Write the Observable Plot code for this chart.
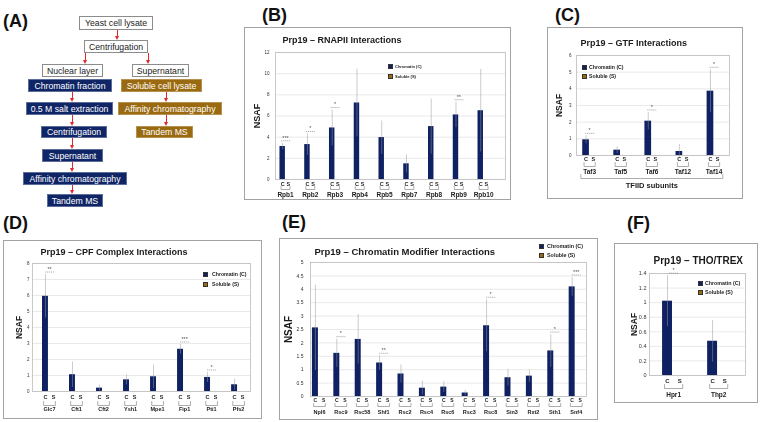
<!DOCTYPE html>
<html><head><meta charset="utf-8">
<script src="https://cdn.jsdelivr.net/npm/d3@7"></script>
<script src="https://cdn.jsdelivr.net/npm/@observablehq/plot@0.6"></script>
<style>
html,body{margin:0;padding:0;background:#fff;}
#root{position:relative;width:761px;height:422px;overflow:hidden;background:#fff;font-family:"Liberation Sans",Arial,sans-serif;}
.plabel{position:absolute;font-weight:bold;font-size:18px;line-height:1;color:#111;white-space:nowrap;}
.box{position:absolute;box-sizing:border-box;display:flex;align-items:center;justify-content:center;font-size:8.7px;white-space:nowrap;overflow:hidden;}
.wbox{background:#fff;border:1px solid #8c8c8c;color:#222;}
.bbox{background:#102566;color:#fff;border:1px solid #5d6d99;}
.gbox{background:#9a6a10;color:#fff;border:1px solid #b89150;}
.panel{position:absolute;}
.panel svg{will-change:transform;}
.pborder{position:absolute;left:0;top:0;right:0;bottom:0;box-sizing:border-box;border:1px solid #a3a3a3;pointer-events:none;}
.leg{position:absolute;font-weight:bold;white-space:nowrap;color:#222;line-height:1;}
.sw{position:absolute;width:5px;height:5px;box-sizing:border-box;border:0.5px solid #333;}
.arr{position:absolute;width:1px;background:#e3262b;}
.head{position:absolute;width:0;height:0;border-left:2.5px solid transparent;border-right:2.5px solid transparent;border-top:4px solid #e3262b;}
</style></head>
<body><div id="root"></div>
<script>
// ---------------- DATA ----------------
// (B) RNAPII
const rnapiiGenes = ["Rpb1","Rpb2","Rpb3","Rpb4","Rpb5","Rpb7","Rpb8","Rpb9","Rpb10"];
const rnapiiChromatin = [3.12, 3.30, 4.87, 7.23, 3.96, 1.48, 5.00, 6.10, 6.50];
const rnapiiChromatinErr = [0.30, 1.00, 1.70, 3.20, 1.57, 0.85, 2.60, 1.20, 3.90];
const rnapiiSoluble = [0,0,0,0,0,0,0,0,0];
const rnapiiSig = ["***","*","*","","","","","**",""];
const rnapiiTicks = [0,2,4,6,8,10,12];

// (C) GTF
const gtfGenes = ["Taf3","Taf5","Taf6","Taf12","Taf14"];
const gtfChromatin = [0.94, 0.32, 2.06, 0.24, 3.86];
const gtfChromatinErr = [0.24, 0.20, 0.52, 0.42, 1.28];
const gtfSoluble = [0,0,0,0,0];
const gtfSig = ["*","","*","","*"];
const gtfTicks = [0,1,2,3,4,5,6];
const gtfGroupLabel = "TFIID subunits";

// (D) CPF complex
const cpfGenes = ["Glc7","Cft1","Cft2","Ysh1","Mpe1","Fip1","Pti1","Pfs2"];
const cpfChromatin = [5.95, 1.05, 0.21, 0.73, 0.92, 2.64, 0.88, 0.42];
const cpfChromatinErr = [1.36, 0.80, 0.19, 0.31, 0.73, 0.30, 0.31, 0.35];
const cpfSoluble = [0,0,0,0,0,0,0,0];
const cpfSig = ["**","","","","","***","*",""];
const cpfTicks = [0,1,2,3,4,5,6,7,8];

// (E) Chromatin modifiers
const modGenes = ["Npl6","Rsc9","Rsc58","Shf1","Rsc2","Rsc4","Rsc6","Rsc3","Rsc8","Sin3","Rxt2","Sth1","Snf4"];
const modChromatin = [2.56, 1.61, 2.13, 1.25, 0.84, 0.31, 0.35, 0.13, 2.64, 0.70, 0.76, 1.70, 4.09];
const modChromatinErr = [1.59, 0.53, 0.92, 0.27, 0.34, 0.26, 0.20, 0.10, 0.97, 0.31, 0.23, 0.61, 0.35];
const modSoluble = [0,0,0,0,0,0,0,0,0,0,0,0,0];
const modSig = ["","*","","**","","","","","*","","","*","***"];
const modTicks = [0,0.5,1,1.5,2,2.5,3,3.5,4,4.5,5];

// (F) THO/TREX
const thoGenes = ["Hpr1","Thp2"];
const thoChromatin = [1.02, 0.47];
const thoChromatinErr = [0.35, 0.285];
const thoSoluble = [0,0];
const thoSig = ["*",""];
const thoTicks = [0,0.2,0.4,0.6,0.8,1,1.2,1.4];

const seriesNames = ["Chromatin (C)","Soluble (S)"];
const titles = {
  B: "Prp19 \u2013 RNAPII Interactions",
  C: "Prp19 \u2013 GTF Interactions",
  D: "Prp19 \u2013 CPF Complex Interactions",
  E: "Prp19 \u2013 Chromatin Modifier Interactions",
  F: "Prp19 \u2013 THO/TREX"
};

// (A) flowchart text
const flowTop = ["Yeast cell lysate","Centrifugation","Nuclear layer","Supernatant"];
const flowChromatin = ["Chromatin fraction","0.5 M salt extraction","Centrifugation","Supernatant","Affinity chromatography","Tandem MS"];
const flowSoluble = ["Soluble cell lysate","Affinity chromatography","Tandem MS"];

// ---------------- STYLE / LAYOUT ----------------
const NAVY = "#0f2163", GOLD = "#9b6a0e";
const FONT = "Liberation Sans, Arial, sans-serif";
const root = document.getElementById("root");

function div(cls, css, text) {
  const d = document.createElement("div");
  if (cls) d.className = cls;
  Object.assign(d.style, css || {});
  if (text != null) d.textContent = text;
  return d;
}

// panel labels
[["(A)",3,12],["(B)",262,6],["(C)",555,6],["(D)",3,214],["(E)",282,213],["(F)",627,214]]
  .forEach(([t,x,y]) => root.appendChild(div("plabel", {left:x+"px", top:y+"px"}, t)));

// flowchart
const flowLayout = {
  top: [[79,16,74,14],[84,40,64,13],[42,64,61,13],[132,64,57,13]],
  chrom: [[28,79,84,13],[26,102,87,13],[41,126,66,12],[42,149,61,13],[23,172,104,13],[47,194,56,13]],
  sol: [[121,79,81,13],[118,102,104,13],[136,126,57,12]]
};
function box(cls, [x,y,w,h], t) {
  root.appendChild(div("box "+cls, {left:x+"px", top:y+"px", width:w+"px", height:h+"px"}, t));
}
flowTop.forEach((t,i) => box("wbox", flowLayout.top[i], t));
flowChromatin.forEach((t,i) => box("bbox", flowLayout.chrom[i], t));
flowSoluble.forEach((t,i) => box("gbox", flowLayout.sol[i], t));
function arrow(x, y1, y2) {
  root.appendChild(div("arr", {left:(x-0.5)+"px", top:y1+"px", height:(y2-y1-3)+"px"}));
  root.appendChild(div("head", {left:(x-2.5)+"px", top:(y2-4)+"px"}));
}
[[117,30,40],[85,53,64],[148,53,64],[72,92,102],[72,115,126],[72,138,149],[72,162,172],[72,185,194],[166,92,102],[166,115,126]]
  .forEach(a => arrow(...a));

// ---------------- CHART PANELS ----------------
function panel(cfg, d) {
  const {left, top, W, H, ml, mt, mr, mb, xMax, f, w, sOff, ymax} = cfg;
  const plotW = W - ml - mr, plotH = H - mt - mb, catPx = plotW / xMax;
  const py = px => -px * ymax / plotH; // pixel distance below the baseline, in data units
  const rows = d.genes.map((g, i) => ({g, i, c: d.chrom[i], e: d.err[i], s: d.sol[i], sig: d.sig[i]}));
  const cx = r => r.i + f + w / 2, sx = r => r.i + sOff + w / 2, mid = r => (cx(r) + sx(r)) / 2;
  const bw = w * 0.3;
  const br = rows.flatMap(r => [
    {z: r.g, x: cx(r) - bw, y: py(cfg.brTop)}, {z: r.g, x: cx(r) - bw, y: py(cfg.brBot)},
    {z: r.g, x: sx(r) + bw, y: py(cfg.brBot)}, {z: r.g, x: sx(r) + bw, y: py(cfg.brTop)}]);
  const sigRows = rows.filter(r => r.sig);
  const hw = 4.5 / catPx;
  const top1 = r => r.c + r.e;
  const marks = [
    Plot.ruleY(d.ticks, {stroke: "#e3e3e3", strokeWidth: 0.8}),
    Plot.frame({stroke: "#bcbcbc", strokeWidth: 0.8}),
    Plot.rect(rows, {x1: r => r.i + f, x2: r => r.i + f + w, y1: 0, y2: "c", fill: NAVY}),
    Plot.rect(rows, {x1: r => r.i + sOff, x2: r => r.i + sOff + w, y1: 0, y2: "s", fill: GOLD}),
    Plot.ruleX(rows, {x: cx, y1: r => r.c - r.e, y2: top1, stroke: "#9a9a9a", strokeOpacity: 0.5, strokeWidth: 1}),
    Plot.link(sigRows, {x1: r => mid(r) - hw, x2: r => mid(r) + hw, y1: top1, y2: top1, dy: -2.5, stroke: "#777", strokeWidth: 0.6, strokeDasharray: "1.2,0.8"}),
    Plot.text(sigRows, {x: mid, y: top1, text: "sig", dy: -5.5, fontSize: 5.5, fill: "#555"}),
    Plot.text(rows, {x: cx, y: 0, text: () => "C", dy: cfg.csDy, fontSize: cfg.csFs, fontWeight: "bold", fill: "#222"}),
    Plot.text(rows, {x: sx, y: 0, text: () => "S", dy: cfg.csDy, fontSize: cfg.csFs, fontWeight: "bold", fill: "#222"}),
    Plot.line(br, {x: "x", y: "y", z: "z", stroke: "#8a8a8a", strokeWidth: 0.7}),
    Plot.text(rows, {x: mid, y: 0, text: "g", dy: cfg.nameDy, fontSize: cfg.nameFs, fontWeight: "bold", fill: "#222"}),
    Plot.text([d.title], {frameAnchor: "top-left", textAnchor: "start", lineAnchor: "bottom", dx: cfg.tx - ml, dy: cfg.ty - mt, fontSize: cfg.tFs, fontWeight: "bold", fill: "#1a1a1a"}),
    Plot.text(["NSAF"], {frameAnchor: "left", rotate: -90, textAnchor: "middle", lineAnchor: "middle", dx: cfg.nDx, fontSize: cfg.nFs, fontWeight: "bold", fill: "#1a1a1a"})
  ];
  if (d.groupLabel) {
    const x0 = rows[0].i + f - 0.06, x1 = rows[rows.length - 1].i + sOff + w + 0.06;
    marks.push(Plot.line([{x: x0, y: py(cfg.gTop)}, {x: x0, y: py(cfg.gBot)}, {x: x1, y: py(cfg.gBot)}, {x: x1, y: py(cfg.gTop)}],
      {x: "x", y: "y", stroke: "#8a8a8a", strokeWidth: 0.7}));
    marks.push(Plot.text([d.groupLabel], {x: () => (x0 + x1) / 2, y: () => 0, dy: cfg.gDy, fontSize: 7.5, fontWeight: "bold", fill: "#1a1a1a"}));
  }
  const svg = Plot.plot({
    width: W, height: H, marginLeft: ml, marginTop: mt, marginRight: mr, marginBottom: mb,
    x: {domain: [0, xMax], axis: null},
    y: {domain: [0, ymax], ticks: d.ticks, tickSize: 0, tickPadding: cfg.tp, tickFormat: v => String(v), label: null},
    style: {background: "transparent", fontFamily: FONT, fontSize: cfg.tickFs + "px", color: "#333", overflow: "visible"},
    marks
  });
  const p = div("panel", {left: left + "px", top: top + "px", width: W + "px", height: H + "px"});
  svg.style.position = "absolute"; svg.style.left = "0px"; svg.style.top = "0px";
  p.appendChild(svg);
  p.appendChild(div("pborder"));
  // legend
  [[NAVY, seriesNames[0], cfg.lg[1]], [GOLD, seriesNames[1], cfg.lg[2]]].forEach(([col, name, yy]) => {
    p.appendChild(div("sw", {left: cfg.lg[0] + "px", top: yy + "px", background: col}));
    p.appendChild(div("leg", {left: cfg.lg[3] + "px", top: (yy + 2.5 - cfg.lgFs * 0.5) + "px", fontSize: cfg.lgFs + "px"}, name));
  });
  root.appendChild(p);
}

panel({left: 244, top: 27, W: 267, H: 173, ml: 31, mt: 25, mr: 6, mb: 21, xMax: 9.29, f: 0.18, w: 0.22, sOff: 0.41, ymax: 12,
  brTop: 7, brBot: 10, csDy: 4.5, csFs: 5.5, nameDy: 15, nameFs: 6.5, tickFs: 4.5, tp: 6, nDx: -18, nFs: 9,
  tx: 38, ty: 15, tFs: 9, lg: [144, 37, 47, 151], lgFs: 4},
  {genes: rnapiiGenes, chrom: rnapiiChromatin, err: rnapiiChromatinErr, sol: rnapiiSoluble, sig: rnapiiSig, ticks: rnapiiTicks, title: titles.B});

panel({left: 547, top: 27, W: 196, H: 172, ml: 29, mt: 28, mr: 14, mb: 44, xMax: 4.92, f: 0.2, w: 0.215, sOff: 0.43, ymax: 6,
  brTop: 7, brBot: 11, csDy: 3.5, csFs: 5.5, nameDy: 16, nameFs: 6.5, tickFs: 4.5, tp: 5, nDx: -17, nFs: 8.5,
  tx: 33, ty: 18.5, tFs: 9, lg: [35, 38, 47, 42], lgFs: 5.2, gTop: 19, gBot: 23, gDy: 30},
  {genes: gtfGenes, chrom: gtfChromatin, err: gtfChromatinErr, sol: gtfSoluble, sig: gtfSig, ticks: gtfTicks, title: titles.C, groupLabel: gtfGroupLabel});

panel({left: 3, top: 240, W: 259, H: 179, ml: 29, mt: 23, mr: 12, mb: 28, xMax: 8.07, f: 0.37, w: 0.22, sOff: 0.67, ymax: 8,
  brTop: 10, brBot: 14, csDy: 6, csFs: 5.5, nameDy: 18, nameFs: 5.5, tickFs: 4.5, tp: 3, nDx: -13, nFs: 8.5,
  tx: 37, ty: 14, tFs: 9, lg: [200, 32, 42, 209], lgFs: 5.2},
  {genes: cpfGenes, chrom: cpfChromatin, err: cpfChromatinErr, sol: cpfSoluble, sig: cpfSig, ticks: cpfTicks, title: titles.D});

panel({left: 279, top: 238, W: 319, H: 182, ml: 31, mt: 24, mr: 12, mb: 24, xMax: 12.9, f: 0.09, w: 0.28, sOff: 0.47, ymax: 5,
  brTop: 7, brBot: 10, csDy: 4, csFs: 5, nameDy: 16, nameFs: 5.5, tickFs: 5, tp: 7, nDx: -22, nFs: 10,
  tx: 35, ty: 16, tFs: 9.5, lg: [260, 6, 15, 268], lgFs: 5.4},
  {genes: modGenes, chrom: modChromatin, err: modChromatinErr, sol: modSoluble, sig: modSig, ticks: modTicks, title: titles.E});

panel({left: 614, top: 243, W: 144, H: 160, ml: 35, mt: 30, mr: 13, mb: 28, xMax: 2.13, f: 0.29, w: 0.22, sOff: 0.56, ymax: 1.4,
  brTop: 9, brBot: 13, csDy: 6, csFs: 6, nameDy: 19, nameFs: 6.5, tickFs: 5.5, tp: 3, nDx: -15, nFs: 8.5,
  tx: 39, ty: 20, tFs: 10, lg: [84, 38, 47, 91], lgFs: 5.3},
  {genes: thoGenes, chrom: thoChromatin, err: thoChromatinErr, sol: thoSoluble, sig: thoSig, ticks: thoTicks, title: titles.F});
</script>
</body></html>
